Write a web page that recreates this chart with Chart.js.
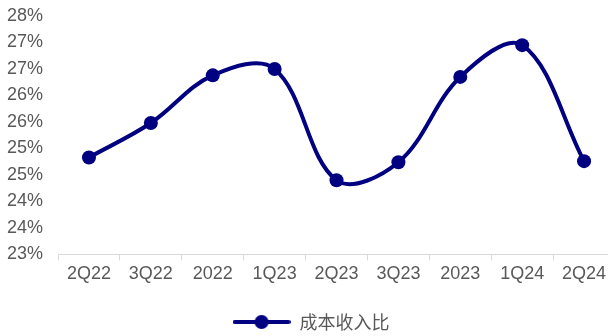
<!DOCTYPE html>
<html>
<head>
<meta charset="utf-8">
<script src="https://cdn.jsdelivr.net/npm/chart.js@4/dist/chart.umd.min.js"></script>
<style>
	html, body { margin: 0; padding: 0; background: #fff; overflow: hidden; }
	#wrap { width: 622px; height: 336px; }
</style>
</head>
<body>
<div id="wrap"><canvas id="costChart"></canvas></div>
<script>
const categories = ["2Q22", "3Q22", "2022", "1Q23", "2Q23", "3Q23", "2023", "1Q24", "2Q24"];
const costIncome = [24.83, 25.48, 26.38, 26.50, 24.40, 24.74, 26.35, 26.95, 24.76];
const seriesName = "成本收入比";
const yMin = 23;
const yMax = 27.5;
const yStep = 0.5;

const navy = "#000080";
const grey = "#595959";

// legend symbol: line with a dot in the middle, like the excel marker legend
function legendSymbol() {
	const c = document.createElement("canvas");
	c.width = 58;
	c.height = 16;
	const ctx = c.getContext("2d");
	ctx.strokeStyle = navy;
	ctx.lineWidth = 4;
	ctx.lineCap = "round";
	ctx.beginPath();
	ctx.moveTo(2, 8);
	ctx.lineTo(56, 8);
	ctx.stroke();
	ctx.fillStyle = navy;
	ctx.beginPath();
	ctx.arc(29, 8, 7, 0, Math.PI * 2);
	ctx.fill();
	return c;
}

new Chart(document.getElementById("costChart"), {
	type: "line",
	data: {
		labels: categories,
		datasets: [{
			label: seriesName,
			data: costIncome,
			borderColor: navy,
			backgroundColor: navy,
			borderWidth: 4,
			tension: 0.36,
			pointRadius: 7,
			pointHoverRadius: 7,
			pointBackgroundColor: navy,
			pointBorderWidth: 0
		}]
	},
	options: {
		responsive: true,
		maintainAspectRatio: false,
		animation: false,
		layout: { padding: { top: 0, left: 0, right: 0, bottom: -5 } },
		plugins: {
			tooltip: { enabled: false },
			legend: {
				position: "bottom",
				labels: {
					usePointStyle: true,
					pointStyle: legendSymbol(),
					pointStyleWidth: 58,
					boxHeight: 16,
					padding: 6,
					color: grey,
					font: { family: "'Noto Sans CJK SC', sans-serif", size: 18 }
				}
			}
		},
		scales: {
			x: {
				offset: true,
				grid: {
					offset: true,
					drawOnChartArea: false,
					color: "#d9d9d9",
					tickLength: 6
				},
				border: { color: "#d9d9d9", width: 1 },
				ticks: {
					color: grey,
					padding: 3,
					maxRotation: 0,
					autoSkip: false,
					font: { family: "'Liberation Sans', Arial, sans-serif", size: 18 }
				},
				afterFit: function (scale) {
					scale.height += 19;
				}
			},
			y: {
				min: yMin,
				max: yMax,
				grid: { display: false },
				border: { display: false },
				ticks: {
					stepSize: yStep,
					color: grey,
					padding: 7,
					font: { family: "'Liberation Sans', Arial, sans-serif", size: 18, lineHeight: 1 },
					callback: function (value) {
						return Math.round(value) + "%";
					}
				}
			}
		}
	}
});
</script>
</body>
</html>
